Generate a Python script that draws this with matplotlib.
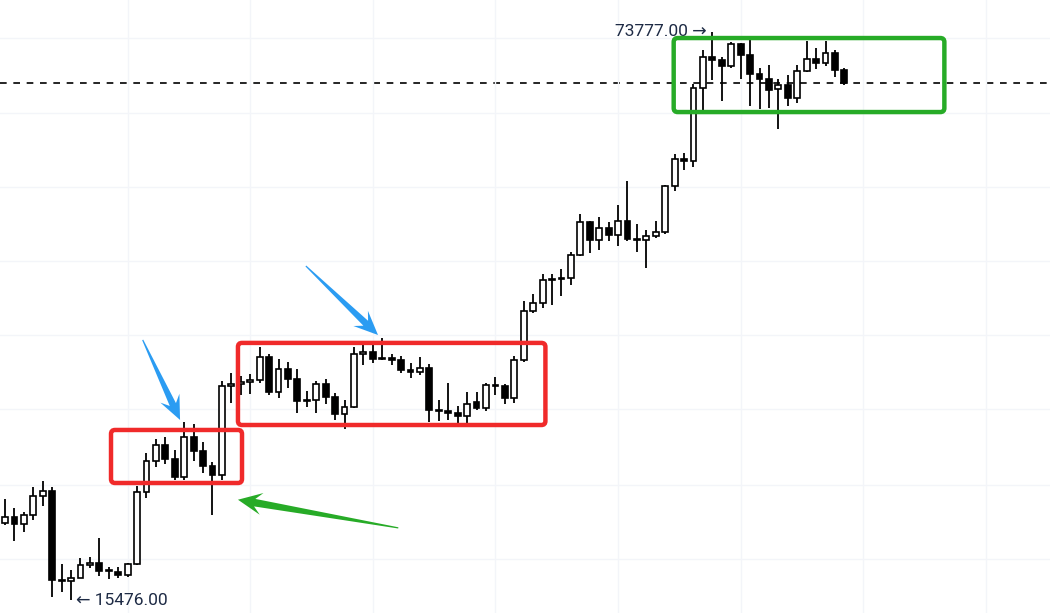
import numpy as np
import matplotlib
matplotlib.use("Agg")
import matplotlib.pyplot as plt
from matplotlib.patches import Polygon, FancyBboxPatch
from matplotlib.transforms import IdentityTransform
from matplotlib.ticker import NullLocator

# weekly candles, Oct 3 2022 .. Jun 17 2024
opens = [19100, 19420, 19070, 19570, 20600, 20900, 16330, 16290, 16430, 17050,
         17120, 16780, 16730, 16560, 17100, 20850, 22650, 23700, 22800, 21700,
         24200, 23300, 22400, 21800, 27900, 28000, 28200, 28350, 30200, 27400,
         29200, 28450, 26750, 26850, 28000, 27050, 25800, 26300, 30400, 30600,
         30050, 30100, 29950, 29150, 28950, 29250, 26100, 26050, 25900, 25700,
         26650, 26250, 27950, 27850, 26950, 29950, 34300, 35000, 37300, 37400,
         37480, 39950, 43800, 41600, 43000, 42250, 43900, 41750, 41600, 42050,
         42550, 48250, 52000, 51700, 63300, 68900, 68350, 67100, 71300, 69300,
         65800, 64900, 63150, 63800, 61450, 66250, 68450, 67700, 69700, 66500]
highs = [20450, 19950, 19700, 21100, 21480, 21100, 17100, 16820, 17350, 17430,
         18350, 16960, 16960, 17150, 21200, 23200, 24100, 24200, 23400, 25250,
         25100, 23900, 22600, 28250, 28900, 28650, 28800, 31000, 30450, 30000,
         29800, 29200, 27500, 28260, 28450, 27350, 26800, 31000, 31200, 31300,
         31800, 30450, 30300, 29700, 30200, 29600, 26800, 28100, 26400, 27450,
         27400, 28100, 28600, 28000, 30300, 35250, 35900, 37950, 37950, 38400,
         40250, 44700, 43850, 44400, 43800, 45850, 48950, 43550, 42850, 43850,
         48500, 52800, 52950, 64000, 70150, 73777, 68900, 71750, 71500, 72800,
         66900, 67300, 64800, 65500, 67450, 71950, 70600, 71950, 70200, 66900]
lows = [19000, 18190, 18650, 19300, 20050, 15590, 15800, 15476, 16420, 16900,
        16530, 16400, 16450, 16500, 17050, 20500, 22300, 22500, 21500, 21500,
        22700, 21950, 19550, 21500, 26600, 27200, 27250, 28100, 27200, 27000,
        27700, 25850, 26300, 25900, 26500, 25400, 24800, 26250, 29500, 29700,
        29950, 29500, 28900, 28500, 28700, 25250, 25350, 25400, 24950, 24900,
        26100, 26050, 27200, 26550, 26600, 29800, 34100, 34550, 34800, 35700,
        36800, 39900, 40200, 40500, 41500, 41000, 41500, 40300, 38550, 41900,
        42300, 47700, 50550, 50900, 59600, 64600, 61000, 66800, 64900, 60200,
        59700, 59800, 56550, 60200, 60750, 66100, 66600, 67100, 65100, 63700]
closes = [19420, 19070, 19570, 20600, 20900, 16330, 16290, 16430, 17050, 17120,
          16780, 16830, 16560, 17100, 20850, 22650, 23700, 22800, 21700, 24200,
          23300, 22400, 21800, 27900, 28000, 28200, 28350, 30200, 27400, 29200,
          28450, 26750, 26850, 28000, 27050, 25800, 26300, 30400, 30600, 30050,
          30100, 29950, 29150, 28950, 29250, 26100, 26050, 25900, 25700, 26550,
          26250, 27950, 27900, 26950, 29950, 34300, 35000, 37300, 37450, 37480,
          39950, 43800, 41600, 43000, 42250, 43900, 41750, 41600, 42050, 42550,
          48250, 52000, 51700, 63300, 68900, 68350, 67100, 71300, 69300, 65800,
          64900, 62900, 63800, 61450, 66250, 68450, 67700, 69700, 66500, 64100]

high_label = "73777.00 \u2192"
low_label = "\u2190 15476.00"

fig = plt.figure(figsize=(10.5, 6.13), dpi=100)
ax = fig.add_axes([0, 0, 1, 1])
ax.set_yscale("log")
ax.set_xlim(-0.53, 110.8)
ax.set_ylim(14933, 80560)

# faint grid
ax.set_xticks([13, 26, 39, 52, 65, 78, 91, 104])
ax.set_yticks([17320, 21250, 26150, 32050, 39300, 48200, 59100, 72500])
ax.yaxis.set_minor_locator(NullLocator())
ax.tick_params(length=0, labelbottom=False, labelleft=False)
ax.grid(True, color="#f3f5f9", lw=1)
for s in ax.spines.values():
    s.set_visible(False)

x = np.arange(len(opens))
o = np.array(opens)
c = np.array(closes)
up = c >= o
ax.vlines(x, lows, highs, color="black", lw=1.3, zorder=2)
ax.bar(x, np.abs(c - o), bottom=np.minimum(o, c), width=0.62,
       color=np.where(up, "white", "black"), edgecolor="black", lw=1.2, zorder=3)

ax.axhline(closes[-1], color="black", ls=(0, (4, 4)), lw=1.2, zorder=1)

ax.text(75 - 0.6, 73777, high_label, ha="right", va="center", fontsize=12.5,
        color="#1e2b45", family=["Roboto", "DejaVu Sans"])
ax.text(7 + 0.5, 15476, low_label, ha="left", va="center", fontsize=12.5,
        color="#1e2b45", family=["Roboto", "DejaVu Sans"])


def px(i, p):
    return ax.transData.transform((i, p))


def box(i0, i1, p_lo, p_hi, color):
    x0, y0 = px(i0, p_lo)
    x1, y1 = px(i1, p_hi)
    fig.add_artist(FancyBboxPatch((x0, y0), x1 - x0, y1 - y0,
                                  boxstyle="round,pad=0,rounding_size=4",
                                  transform=IdentityTransform(), fc="none",
                                  ec=color, lw=3.2, zorder=6))


def arrow(start, end, color, tail_w=0.6, shaft_w=3.4, head_len=24, head_w=10.5, notch=7):
    p0 = px(*start)
    p1 = px(*end)
    d = p1 - p0
    u = d / np.hypot(*d)
    n = np.array([-u[1], u[0]])
    base = p1 - u * head_len
    join = p1 - u * (head_len - notch)
    pts = [p0 + n * tail_w, join + n * shaft_w, base + n * head_w, p1,
           base - n * head_w, join - n * shaft_w, p0 - n * tail_w]
    fig.add_artist(Polygon(pts, closed=True, transform=IdentityTransform(),
                           fc=color, lw=0, zorder=7))


box(11.24, 25.13, 21350, 24700, "#f02a2a")
box(24.7, 57.3, 25040, 31380, "#f02a2a")
box(70.9, 99.6, 59200, 72560, "#27ab27")

arrow((14.6, 31640), (18.56, 25390), "#2b9cf2")
arrow((31.9, 38770), (39.55, 32070), "#2b9cf2")
arrow((41.7, 18870), (24.7, 20390), "#27ab27", shaft_w=3.8, head_w=11)

fig.savefig("out.png", dpi=100)
